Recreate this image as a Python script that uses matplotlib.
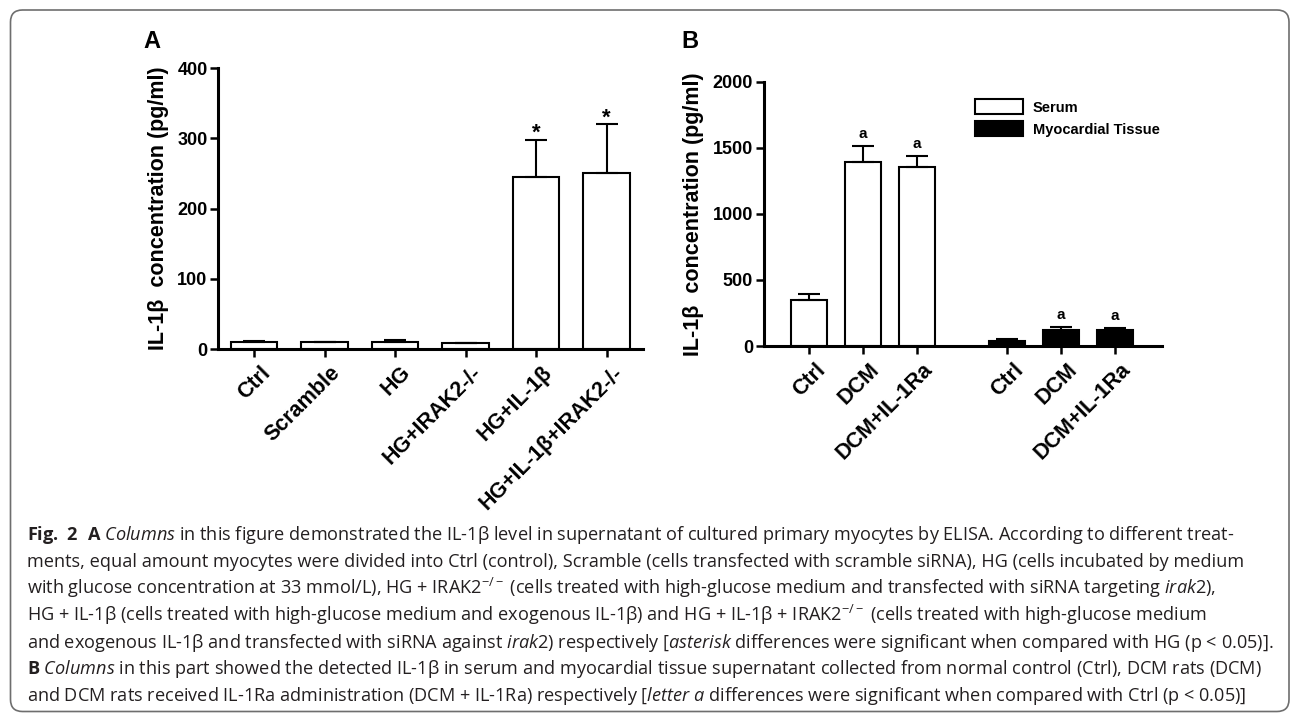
#!/usr/bin/env python3

import matplotlib

matplotlib.use("Agg")

import matplotlib.pyplot as plt
import matplotlib.transforms as mtransforms
import numpy as np
from matplotlib.patches import FancyBboxPatch

# panel A: IL-1beta in supernatant of cultured myocytes (pg/ml)
a_groups = ["Ctrl", "Scramble", "HG", "HG+IRAK2-/-", "HG+IL-1β", "HG+IL-1β+IRAK2-/-"]
a_mean = [10, 10, 9.5, 8, 245, 251]
a_err = [1.5, 0.5, 3, 1, 53, 69]
a_marks = ["", "", "", "", "*", "*"]

# panel B: IL-1beta in serum and myocardial tissue (pg/ml)
b_groups = ["Ctrl", "DCM", "DCM+IL-1Ra"]
b_serum_mean = [350, 1394, 1356]
b_serum_err = [43, 119, 79]
b_tissue_mean = [36, 122, 120]
b_tissue_err = [17, 23, 17]
b_serum_marks = ["", "a", "a"]
b_tissue_marks = ["", "a", "a"]

a_yticks = [0, 100, 200, 300, 400]
b_yticks = [0, 500, 1000, 1500, 2000]

caption_lines = [
    r"$\mathbf{Fig.\ 2\ \ A}$ $\mathit{Columns}$ in this figure demonstrated the IL-1β level in supernatant of cultured primary myocytes by ELISA. According to different treat-",
    r"ments, equal amount myocytes were divided into Ctrl (control), Scramble (cells transfected with scramble siRNA), HG (cells incubated by medium",
    r"with glucose concentration at 33 mmol/L), HG + IRAK2$^{-/-}$ (cells treated with high-glucose medium and transfected with siRNA targeting $\mathit{irak2}$),",
    r"HG + IL-1β (cells treated with high-glucose medium and exogenous IL-1β) and HG + IL-1β + IRAK2$^{-/-}$ (cells treated with high-glucose medium",
    r"and exogenous IL-1β and transfected with siRNA against $\mathit{irak2}$) respectively [$\mathit{asterisk}$ differences were significant when compared with HG (p < 0.05)].",
    r"$\mathbf{B}$ $\mathit{Columns}$ in this part showed the detected IL-1β in serum and myocardial tissue supernatant collected from normal control (Ctrl), DCM rats (DCM)",
    r"and DCM rats received IL-1Ra administration (DCM + IL-1Ra) respectively [$\mathit{letter\ a}$ differences were significant when compared with Ctrl (p < 0.05)]",
]

W, H = 1293, 713
CHART_FONT = "Liberation Sans"
BAR_W = 0.66
YLABEL = "IL-1β  concentration (pg/ml)"


def px_axes(fig, left, top, right, bottom):
    return fig.add_axes([left / W, 1 - bottom / H, (right - left) / W, (bottom - top) / H])


def style_axes(ax, yticks):
    for side in ("top", "right"):
        ax.spines[side].set_visible(False)
    for side in ("left", "bottom"):
        ax.spines[side].set_linewidth(2.2)
    ax.tick_params(direction="out", length=6, width=1.8, color="black")
    ax.tick_params(axis="y", pad=1.5)
    ax.set_yticks(yticks)
    for lab in ax.get_yticklabels():
        lab.set_fontfamily(CHART_FONT)
        lab.set_fontweight("bold")
        lab.set_fontsize(13)
    ax.set_ylim(yticks[0], yticks[-1])
    ax.set_ylabel(YLABEL, fontsize=15.5, fontweight="bold", family=CHART_FONT, labelpad=6)


def set_xlabels(ax, xs, labels):
    ax.set_xticks(xs)
    ax.set_xticklabels(labels, rotation=45, ha="right", rotation_mode="anchor",
                       fontsize=15.5, fontweight="bold", family=CHART_FONT)
    shift = mtransforms.ScaledTranslation(4 / 72, 0, ax.figure.dpi_scale_trans)
    for lab in ax.get_xticklabels():
        lab.set_transform(lab.get_transform() + shift)


def draw_bars(ax, xs, mean, err, color, marks, mark_size, mark_pad, label=None):
    ax.bar(xs, mean, width=BAR_W, color=color, edgecolor="black", linewidth=1.5,
           zorder=2, label=label)
    ax.errorbar(xs, mean, yerr=[np.zeros(len(err)), err], fmt="none", ecolor="black",
                elinewidth=1.5, capsize=8, capthick=1.5, zorder=3)
    for x, m, e, mark in zip(xs, mean, err, marks):
        if mark:
            ax.annotate(mark, (x, m + e), xytext=(0, mark_pad), textcoords="offset points",
                        ha="center", va="baseline", fontsize=mark_size,
                        fontweight="bold", family=CHART_FONT)


def plot_panel_a(fig):
    ax = px_axes(fig, 218, 68.3, 643, 349)
    xs = np.arange(len(a_groups))
    draw_bars(ax, xs, a_mean, a_err, "white", a_marks, 16, 0.5)
    ax.set_xlim(-0.51, 5.515)
    style_axes(ax, a_yticks)
    set_xlabels(ax, xs, a_groups)
    fig.text(143 / W, 1 - 48 / H, "A", fontsize=17, fontweight="bold", family=CHART_FONT)


def plot_panel_b(fig):
    ax = px_axes(fig, 763.5, 81.7, 1162, 346)
    xs_serum = np.arange(len(b_groups))
    xs_tissue = xs_serum + 3.68
    draw_bars(ax, xs_serum, b_serum_mean, b_serum_err, "white", b_serum_marks, 11, 6,
              label="Serum")
    draw_bars(ax, xs_tissue, b_tissue_mean, b_tissue_err, "black", b_tissue_marks, 11, 6,
              label="Myocardial Tissue")
    ax.set_xlim(-0.845, 6.553)
    style_axes(ax, b_yticks)
    set_xlabels(ax, np.concatenate([xs_serum, xs_tissue]), b_groups + b_groups)
    ax.legend(loc="upper left", bbox_to_anchor=(0.513, 0.961), frameon=False,
              borderpad=0, handlelength=3.3, handleheight=1.2, labelspacing=0.45,
              handletextpad=0.65, prop={"family": CHART_FONT, "weight": "bold", "size": 10.5})
    fig.text(681 / W, 1 - 48 / H, "B", fontsize=17, fontweight="bold", family=CHART_FONT)


def draw_caption(fig):
    box = FancyBboxPatch((10.5, 1.5), 1278.5, 701.5,
                         boxstyle="round,pad=0,rounding_size=12",
                         transform=mtransforms.IdentityTransform(),
                         facecolor="none", edgecolor="#6e6e6e", linewidth=1.2)
    fig.add_artist(box)
    for i, line in enumerate(caption_lines):
        y = 540 + 26.9 * i
        fig.text(27 / W, 1 - y / H, line, fontsize=13.1, family="Open Sans",
                 va="baseline", ha="left", color="#231f20")


def main() -> None:
    plt.rcParams["mathtext.fontset"] = "custom"
    plt.rcParams["mathtext.rm"] = "Open Sans"
    plt.rcParams["mathtext.it"] = "Open Sans:italic"
    plt.rcParams["mathtext.bf"] = "Open Sans:bold"

    fig = plt.figure(figsize=(W / 100, H / 100), dpi=100)
    plot_panel_a(fig)
    plot_panel_b(fig)
    draw_caption(fig)
    fig.savefig("out.png", dpi=100)


if __name__ == "__main__":
    main()
